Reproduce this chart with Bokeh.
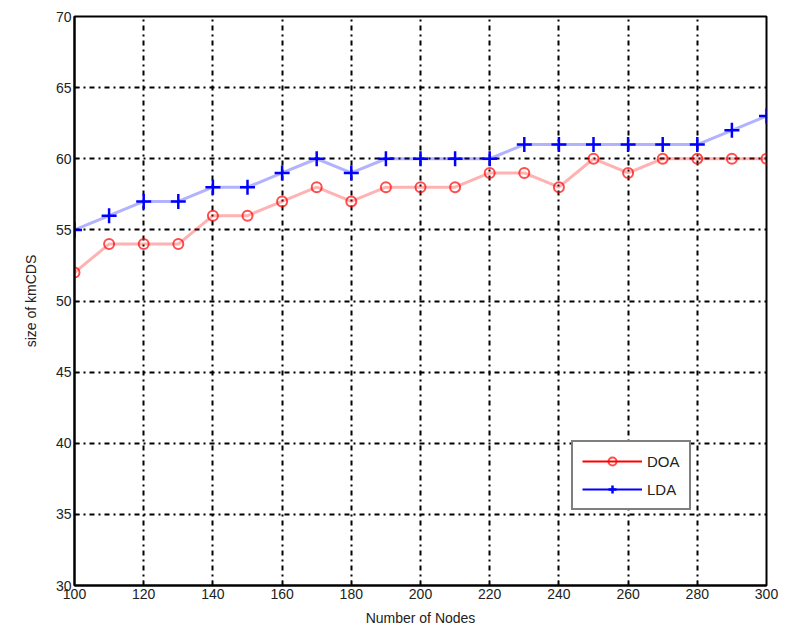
from bokeh.plotting import figure
from bokeh.embed import file_html
from bokeh.resources import INLINE
from bokeh.models import Legend, LegendItem, FixedTicker, Range1d

nodes = [100, 110, 120, 130, 140, 150, 160, 170, 180, 190, 200, 210, 220, 230, 240, 250, 260, 270, 280, 290, 300]
doa = [52, 54, 54, 54, 56, 56, 57, 58, 57, 58, 58, 58, 59, 59, 58, 60, 59, 60, 60, 60, 60]
lda = [55, 56, 57, 57, 58, 58, 59, 60, 59, 60, 60, 60, 60, 61, 61, 61, 61, 61, 61, 62, 63]
x_ticks = [100, 120, 140, 160, 180, 200, 220, 240, 260, 280, 300]
y_ticks = [30, 35, 40, 45, 50, 55, 60, 65, 70]

FONT = "Liberation Sans"

p = figure(width=782, height=632, output_backend="svg", toolbar_location=None,
           x_range=Range1d(100, 300), y_range=Range1d(30, 70),
           min_border_left=74, min_border_right=16, min_border_top=16, min_border_bottom=47)

p.outline_line_color = "black"
p.outline_line_width = 2
p.background_fill_color = "white"
p.border_fill_color = "white"

for ax in (p.xaxis[0], p.yaxis[0]):
    ax.axis_line_color = "black"
    ax.axis_line_width = 2
    ax.major_tick_in = 5
    ax.major_tick_out = 0
    ax.minor_tick_line_color = None
    ax.major_label_text_font = FONT
    ax.major_label_text_font_size = "14px"
    ax.major_label_text_color = "#222222"
    ax.axis_label_text_font = FONT
    ax.axis_label_text_font_size = "14px"
    ax.axis_label_text_color = "#222222"
    ax.axis_label_text_font_style = "normal"

p.xaxis.ticker = FixedTicker(ticks=x_ticks)
p.yaxis.ticker = FixedTicker(ticks=y_ticks)
p.xaxis.axis_label = "Number of Nodes"
p.yaxis.axis_label = "size of kmCDS"
p.xaxis.major_label_standoff = 3
p.yaxis.major_label_standoff = 3
p.xaxis.axis_label_standoff = 8
p.yaxis.axis_label_standoff = 14

for g in (p.xgrid[0], p.ygrid[0]):
    g.grid_line_color = "black"
    g.grid_line_width = 2
    g.grid_line_dash = "5 4 2 4"
    g.grid_line_alpha = 1.0

l1 = p.line(nodes, doa, line_color="red", line_width=3, line_alpha=0.3)
m1 = p.scatter(nodes, doa, marker="circle", size=10, fill_color=None,
               line_color="red", line_width=2, line_alpha=0.7)
l2 = p.line(nodes, lda, line_color="blue", line_width=3, line_alpha=0.3)
m2 = p.scatter(nodes, lda, marker="cross", size=15, line_color="blue", line_width=2.5)

leg_l1 = p.line([None], [None], line_color="red", line_width=2)
leg_l2 = p.line([None], [None], line_color="blue", line_width=2)

legend = Legend(items=[LegendItem(label="DOA", renderers=[leg_l1, m1]),
                       LegendItem(label="LDA", renderers=[leg_l2, m2])],
                location=(497, 75), orientation="vertical")
legend.border_line_color = "black"
legend.border_line_width = 2
legend.label_text_font = FONT
legend.label_text_font_size = "15px"
legend.label_text_color = "#222222"
legend.glyph_width = 60
legend.glyph_height = 20
legend.label_height = 20
legend.spacing = 8
legend.padding = 9
legend.margin = 0
legend.background_fill_alpha = 1.0
p.add_layout(legend, "center")

open("out.html", "w").write(file_html(p, INLINE))
